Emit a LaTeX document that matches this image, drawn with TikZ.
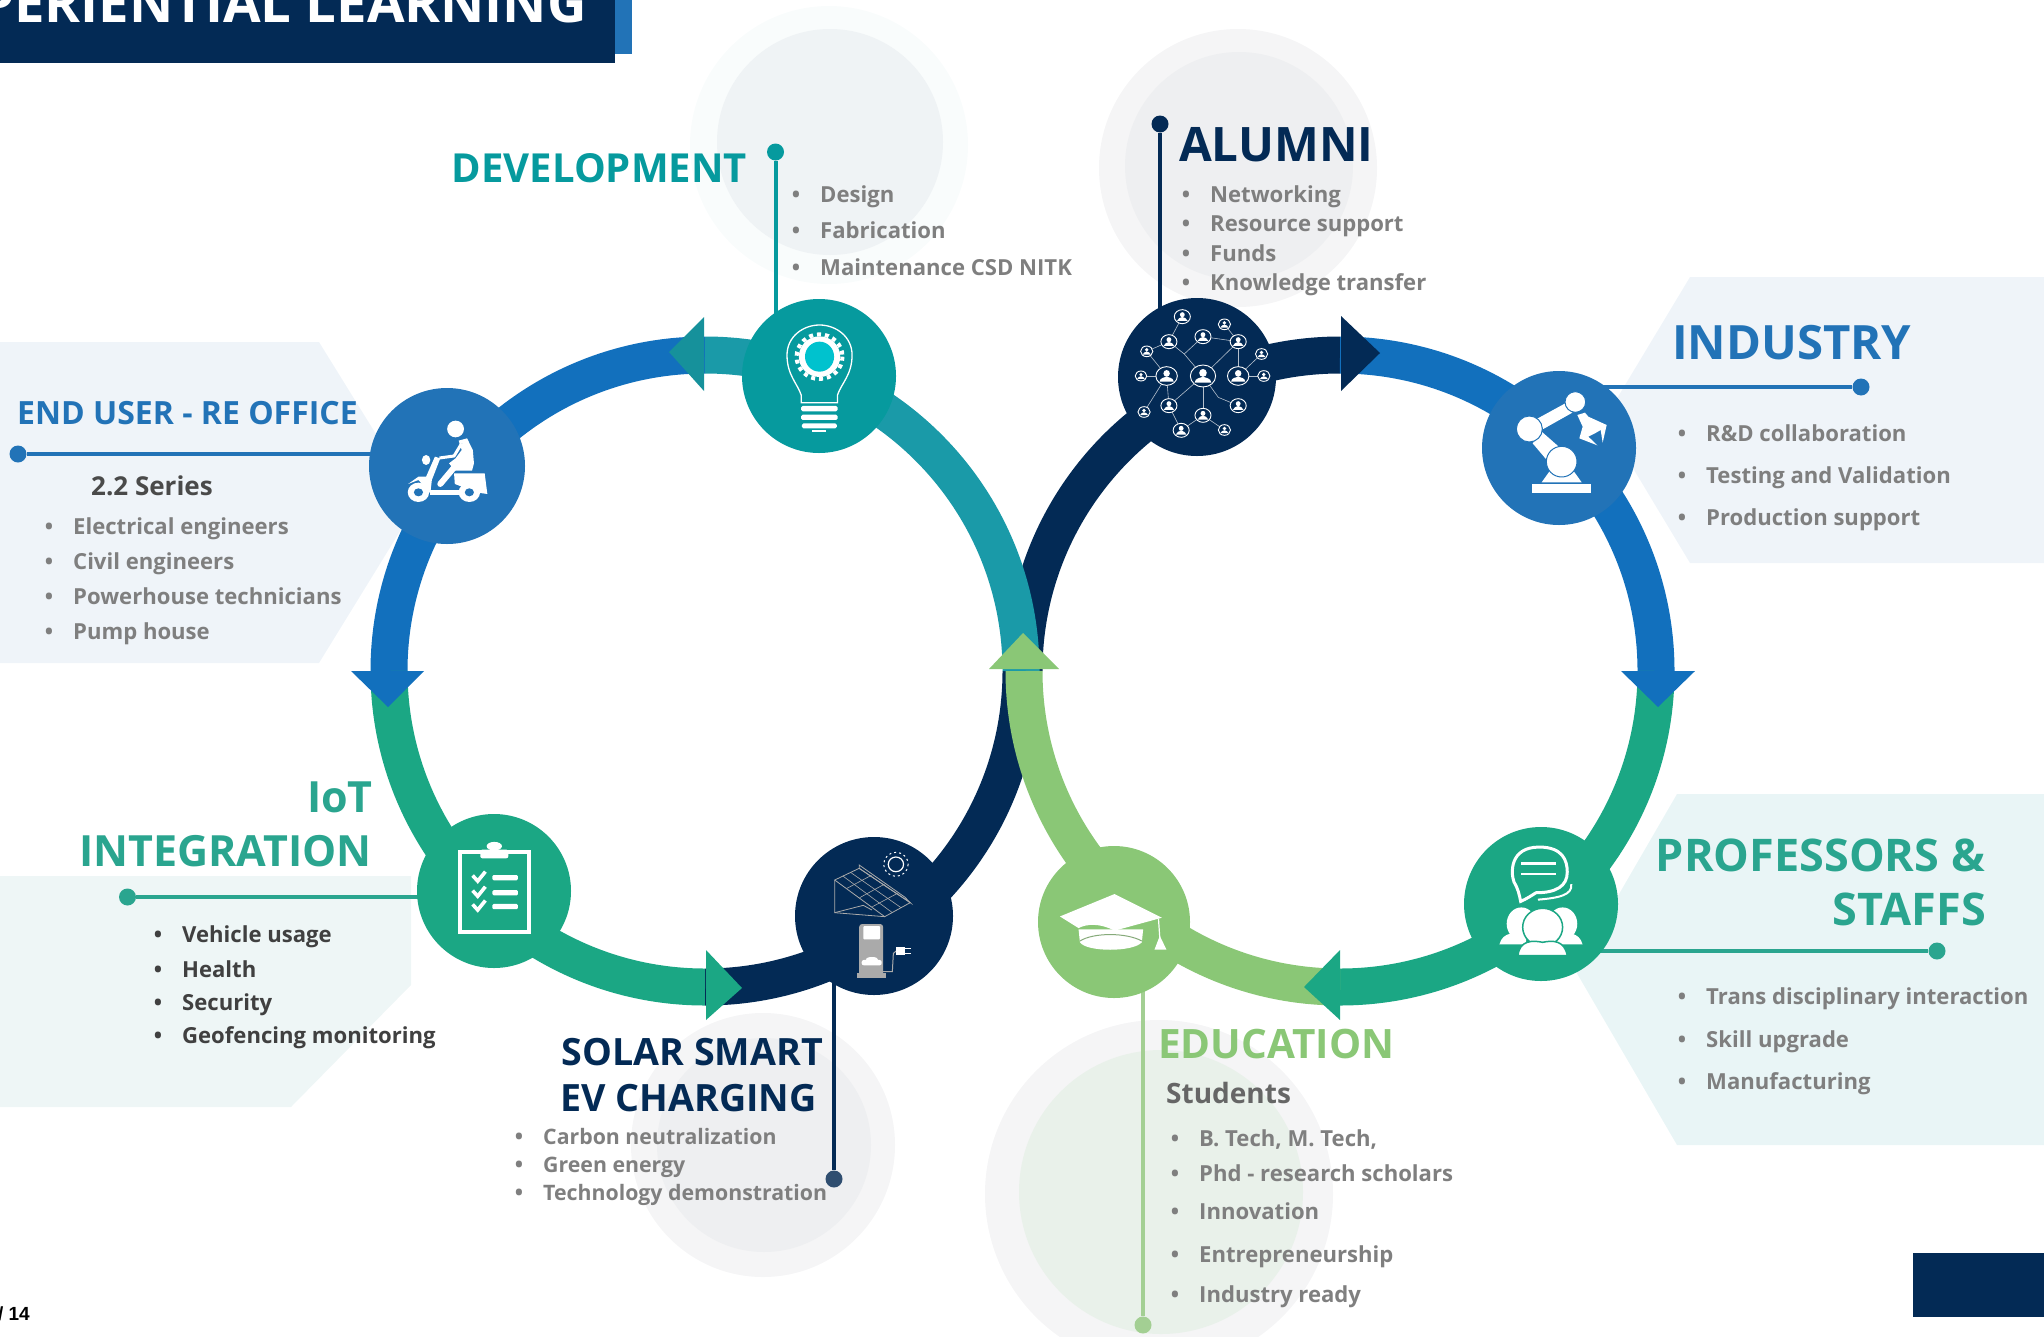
\documentclass[tikz,border=0pt]{standalone}
\usepackage{fontspec}
\setmainfont{Open Sans}
\newfontfamily\arialfont{Liberation Sans}
\usetikzlibrary{calc}
\definecolor{navy}{HTML}{032A55}
\definecolor{midblue}{HTML}{2273B7}
\definecolor{bandblue}{HTML}{1270BD}
\definecolor{tealdark}{HTML}{069A9E}
\definecolor{bandteal}{HTML}{1A9AA8}
\definecolor{arrteal}{HTML}{16919B}
\definecolor{bgreen}{HTML}{1BA784}
\definecolor{headgreen}{HTML}{2AA58F}
\definecolor{lgreen}{HTML}{8AC776}
\definecolor{lleader}{HTML}{A3CF93}
\definecolor{graytext}{HTML}{7F7F7F}
\definecolor{iotgray}{HTML}{404040}
\definecolor{panelblue}{HTML}{EFF4F9}
\definecolor{panelteal}{HTML}{E9F5F6}
\definecolor{paneliot}{HTML}{EEF6F6}
\definecolor{icongray}{HTML}{AAAAAA}
\definecolor{haloA}{HTML}{F9FCFC}
\definecolor{haloB}{HTML}{EFF3F5}
\definecolor{haloC}{HTML}{F5F5F6}
\definecolor{haloD}{HTML}{EEEFF1}
\definecolor{haloE}{HTML}{E9F1EA}
\definecolor{soldot}{HTML}{2F4E70}
\definecolor{cyanbulb}{HTML}{00C2CE}
\definecolor{sub1}{HTML}{4A4A4A}
\definecolor{sub2}{HTML}{666666}
\tikzset{
  band/.style={line width=37pt},
  hub/.style={circle,inner sep=0pt,draw=none},
  leader/.style={line width=4pt},
  dotmark/.style={circle,inner sep=0pt,minimum size=17pt},
  head/.style={font=\bfseries\fontsize{#1}{#1}\selectfont,inner sep=0pt},
  item/.style={font=\bfseries\fontsize{22.1}{22.1}\selectfont,text=graytext,inner sep=0pt,anchor=base west},
}
\newcommand{\li}[5][graytext]{\node[item,text=#1] (#2) at (#3,#4) {\llap{•\hspace{20pt}}#5};}
\newcommand{\person}[3]{%
  \begin{scope}[shift={(#1,#2)}]
    \draw[white,line width=.9pt,fill=navy] (0,0) ellipse [x radius=#3,y radius=#3];
    \fill[white] (0,{-.28*#3}) ellipse [x radius={.3*#3},y radius={.36*#3}];
    \fill[white] ({-.66*#3},{.6*#3}) .. controls ({-.62*#3},{.15*#3}) and ({-.2*#3},{.2*#3}) .. (0,{.05*#3}) .. controls ({.2*#3},{.2*#3}) and ({.62*#3},{.15*#3}) .. ({.66*#3},{.6*#3}) -- cycle;
  \end{scope}}
\begin{document}
\begin{tikzpicture}[x=1pt,y=-1pt]
\useasboundingbox (0,0) rectangle (2044,1336);
\clip (0,0) rectangle (2044,1336);
% panels
\fill[panelblue] (0,342) -- (319,342) -- (418,502) -- (319,663) -- (0,663) -- cycle;
\fill[panelblue] (1690,277) -- (2044,277) -- (2044,563) -- (1690,563) -- (1604,420) -- cycle;
\fill[panelteal] (1677,794) -- (2044,794) -- (2044,1145) -- (1677,1145) -- (1575,970) -- cycle;
\fill[paneliot] (0,876) -- (411,876) -- (411,985) -- (291,1107) -- (0,1107) -- cycle;
% halo discs
\fill[haloA] (829,145) circle (139);
\fill[haloB] (830,142) circle (113);
\fill[haloC] (1238,168) circle (139);
\fill[haloD] (1239,166) circle (114);
\fill[haloC] (763,1145) circle (132);
\fill[haloD] (764,1145) circle (107);
\fill[haloC] (1159,1194) circle (174);
\fill[haloE] (1161,1192) circle (142);
% title
\fill[midblue] (0,0) rectangle (632,54);
\fill[navy] (0,0) rectangle (615,63);
\node[head=54.5,text=white,anchor=base east] (title) at (587,22) {PERIENTIAL LEARNING};
\fill[navy] (1913,1253) rectangle (2044,1317);
\node[font=\arialfont\bfseries\fontsize{19}{19}\selectfont,inner sep=0pt,anchor=base east] (pageno) at (30,1320) {/ 14};
% ring centres
\coordinate (lc) at (705,671);
\coordinate (rc) at (1340,671);
% bands
\draw[band,navy] ($(lc)+(90:316)$) arc [start angle=90,end angle=0,radius=316];
\draw[band,navy] ($(rc)+(180:316)$) arc [start angle=180,end angle=270,radius=316];
\draw[band,bandblue] ($(lc)+(270:316)$) arc [start angle=270,end angle=180,radius=316];
\draw[band,bgreen] ($(lc)+(180:316)$) arc [start angle=180,end angle=90,radius=316];
\draw[band,bandblue] ($(rc)+(270:316)$) arc [start angle=270,end angle=360,radius=316];
\draw[band,bgreen] ($(rc)+(0:316)$) arc [start angle=0,end angle=90,radius=316];
\draw[band,bandteal] ($(lc)+(270:316)$) arc [start angle=270,end angle=360,radius=316];
\draw[band,lgreen] ($(rc)+(90:316)$) arc [start angle=90,end angle=180,radius=316];
% arrowheads
\fill[arrteal] (669,352) -- (704,317) -- (704,391) -- cycle;
\fill[bandblue] (388,707) -- (351,671) -- (424,671) -- cycle;
\fill[bgreen] (742,988) -- (706,950) -- (706,1020) -- cycle;
\fill[navy] (1380,353) -- (1341,316) -- (1341,391) -- cycle;
\fill[bandblue] (1658,707) -- (1621,671) -- (1695,671) -- cycle;
\fill[bgreen] (1304,987) -- (1340,950) -- (1340,1020) -- cycle;
\fill[lgreen] (1023,633) -- (989,669) -- (1059,669) -- cycle;
% leaders' dots first, so leaders run under hubs
\node[dotmark,fill=midblue] (d1) at (18,454) {};
\node[dotmark,fill=tealdark] (d2) at (775.5,152) {};
\node[dotmark,fill=navy] (d3) at (1160,124) {};
\node[dotmark,fill=midblue] (d4) at (1861,387) {};
\node[dotmark,fill=headgreen] (d5) at (127.5,897) {};
\node[dotmark,fill=soldot] (d6) at (834,1179) {};
\node[dotmark,fill=lleader] (d7) at (1143,1325) {};
\node[dotmark,fill=headgreen] (d8) at (1937,951) {};
\coordinate (scooterc) at (447,466);
\coordinate (bulbc) at (819,376);
\coordinate (alumnic) at (1197,377);
\coordinate (robotc) at (1559,448);
\coordinate (staffc) at (1541,904);
\coordinate (gradc) at (1114,922);
\coordinate (solarc) at (874,916);
\coordinate (clipc) at (494,891);
\draw[leader,midblue] (d1) -- (d1 -| scooterc);
\draw[leader,tealdark] (d2) -- (d2 |- bulbc);
\draw[leader,navy] (d3) -- (d3 |- alumnic);
\draw[leader,midblue] (d4) -- (d4 -| robotc);
\draw[leader,headgreen] (d5) -- (d5 -| clipc);
\draw[leader,navy] (d6) -- (d6 |- solarc);
\draw[leader,lleader] (d7) -- (d7 |- gradc);
\draw[leader,headgreen] (d8) -- (d8 -| staffc);
% hubs
\node[hub,fill=midblue,minimum size=156pt] (scooter) at (scooterc) {};
\node[hub,fill=tealdark,minimum size=154pt] (bulb) at (bulbc) {};
\node[hub,fill=navy,minimum size=158pt] (alumni) at (alumnic) {};
\node[hub,fill=midblue,minimum size=154pt] (robot) at (robotc) {};
\node[hub,fill=bgreen,minimum size=154pt] (staff) at (staffc) {};
\node[hub,fill=lgreen,minimum size=152pt] (grad) at (gradc) {};
\node[hub,fill=navy,minimum size=158pt] (solar) at (solarc) {};
\node[hub,fill=bgreen,minimum size=154pt] (clip) at (clipc) {};

% ---- icons ----
% scooter + bulb (zoom coords)
\begin{scope}[shift={(340,280)},x=.3827pt,y=-.3333pt]
  \fill[white] (302,447) ellipse [x radius=22,y radius=25];
  \fill[white] (310,482) -- (332,475) -- (347,510) -- (350,550) -- (345,572) -- (300,572) -- (285,550) -- (302,535) -- (318,510) -- cycle;
  \draw[midblue,line width=1pt] (318,490) -- (300,532) -- (262,538);
  \draw[white,line width=3pt] (318,490) -- (298,528) -- (260,534);
  \draw[white,line width=6pt,line cap=round] (300,560) -- (262,612);
  \fill[white] (298,580) -- (378,580) -- (385,642) -- (360,638) -- (300,612) -- cycle;
  \fill[white] (235,630) -- (320,630) -- (320,645) -- (235,645) -- cycle;
  \fill[white] (248,530) -- (262,535) -- (240,600) -- (236,640) -- (205,600) -- (178,612) -- (205,590) -- (225,590) -- cycle;
  \fill[white] (225,540) ellipse [x radius=11,y radius=15];
  \fill[white] (205,637) ellipse [x radius=28,y radius=29];
  \fill[midblue] (205,637) ellipse [x radius=12,y radius=12];
  \fill[white] (338,637) ellipse [x radius=28,y radius=29];
  \fill[midblue] (338,637) ellipse [x radius=12,y radius=12];
  % bulb
  \draw[white,line width=1.3pt] (1205,368) -- (1205,345) .. controls (1195,310) and (1168,285) .. (1168,225) .. controls (1168,170) and (1210,135) .. (1253,135) .. controls (1296,135) and (1338,170) .. (1338,225) .. controls (1338,285) and (1310,310) .. (1300,345) -- (1300,368) -- cycle;
  \draw[white,line width=4pt,dash pattern=on 4pt off 4pt] (1253,230) ellipse [x radius=60,y radius=67];
  \fill[white] (1253,230) ellipse [x radius=54,y radius=61];
  \fill[cyanbulb] (1253,230) ellipse [x radius=38,y radius=45];
  \fill[white,rounded corners=1.5pt] (1205,378) rectangle (1300,394);
  \fill[white,rounded corners=1.5pt] (1205,404) rectangle (1300,420);
  \fill[white,rounded corners=1.5pt] (1207,430) rectangle (1298,445);
  \fill[white] (1232,450) rectangle (1270,456);
\end{scope}
% alumni network
\begin{scope}[shift={(720,280)},x=.3827pt,y=-.3333pt]
  \foreach \ax/\ay/\bx/\by in {1262/288/1213/222, 1213/222/1173/185, 1213/222/1262/170, 1262/288/1354/185, 1262/170/1354/185, 1354/185/1318/133, 1354/185/1354/288, 1354/288/1415/222, 1354/288/1421/288, 1173/185/1208/110, 1173/185/1115/214, 1115/214/1167/288, 1167/288/1100/288, 1167/288/1173/377, 1167/288/1108/396, 1173/377/1262/288, 1173/377/1205/451, 1262/288/1262/406, 1262/406/1205/451, 1262/406/1318/450, 1262/288/1302/352, 1302/352/1354/377}
    {\draw[white!70!navy,line width=.6pt] (\ax,\ay) -- (\bx,\by);}
  \foreach \px/\py/\pr in {1262/288/33, 1167/288/28, 1354/288/28, 1208/110/21, 1173/185/21, 1262/170/21, 1354/185/21, 1318/133/16, 1115/214/16, 1415/222/16, 1421/288/16, 1100/288/15, 1108/396/16, 1173/377/21, 1262/406/21, 1354/377/21, 1205/451/21, 1318/450/16}
    {\person{\px}{\py}{\pr}}
\end{scope}
% robot
\begin{scope}[shift={(1440,340)},x=.3333pt,y=-.3333pt]
  \fill[white] (277,433) rectangle (453,458);
  \fill[white] (305,427) -- (335,385) -- (395,385) -- (425,427) -- cycle;
  \fill[white] (290,237) -- (385,185) -- (397,218) -- (310,267) -- cycle;
  \fill[white] (278,310) -- (305,275) -- (362,325) -- (322,362) -- cycle;
  \draw[midblue,line width=1pt,fill=white] (365,365) circle (46);
  \draw[midblue,line width=1pt,fill=white] (268,267) circle (39);
  \draw[midblue,line width=1pt,fill=white] (406,186) circle (31);
  \fill[white] (412,225) -- (435,218) -- (445,230) -- (500,255) -- (488,308) -- (482,270) -- (465,280) -- (445,290) -- (472,316) -- (418,295) -- (428,260) -- cycle;
\end{scope}
% staff
\begin{scope}[shift={(1000,660)},x=.6658pt,y=-.431pt]
  \draw[white,line width=2pt] (858,520) .. controls (860,545) and (840,552) .. (808,556);
  \draw[white,line width=3pt] (810,434) .. controls (845,434) and (852,465) .. (852,492) .. controls (852,525) and (835,540) .. (805,540) .. controls (800,545) and (790,555) .. (782,560) .. controls (780,545) and (778,530) .. (772,515) .. controls (767,495) and (765,434) .. (810,434) -- cycle;
  \draw[white,line width=2.5pt] (783,472) -- (835,472);
  \draw[white,line width=2.5pt] (783,497) -- (835,497);
  \fill[white] (783,612) ellipse [x radius=22,y radius=38];
  \fill[white] (750,660) .. controls (755,630) and (775,630) .. (790,640) -- (790,660) -- cycle;
  \fill[white] (845,612) ellipse [x radius=22,y radius=38];
  \fill[white] (875,660) .. controls (870,630) and (850,630) .. (835,640) -- (835,660) -- cycle;
  \draw[bgreen,line width=1.5pt,fill=white] (815,620) ellipse [x radius=30,y radius=44];
  \draw[bgreen,line width=1.5pt,fill=white] (778,686) .. controls (780,650) and (800,650) .. (815,655) .. controls (830,650) and (848,650) .. (852,686) -- cycle;
\end{scope}
% graduation cap
\begin{scope}[shift={(1000,660)},x=.6658pt,y=-.431pt]
  \fill[white] (118,625) -- (215,625) -- (213,655) .. controls (200,678) and (130,678) .. (120,655) -- cycle;
  \draw[lgreen!60!gray,line width=1pt] (120,652) .. controls (140,632) and (190,632) .. (213,652);
  \fill[white] (90,595) -- (172,543) -- (243,598) -- (172,628) .. controls (150,610) and (130,612) .. (118,622) -- cycle;
  \draw[white,line width=1.2pt] (238,600) -- (240,645);
  \fill[white] (240,640) -- (250,672) -- (232,672) -- cycle;
\end{scope}
% clipboard
\begin{scope}[shift={(0,660)},x=.6378pt,y=-.431pt]
  \draw[white,line width=4pt] (722,445) rectangle (830,632);
  \fill[white,rounded corners=2pt] (753,440) rectangle (797,460);
  \fill[white] (775,432) ellipse [x radius=12,y radius=10];
  \foreach \yy in {505,540,572} {
    \draw[white,line width=3.6pt] (741,\yy-5) -- (749,\yy+8) -- (761,\yy-14);
    \fill[white,rounded corners=1.2pt] (772,\yy-6) rectangle (812,\yy+6);
  }
\end{scope}
% solar
\begin{scope}[shift={(400,800)},x=.5102pt,y=-.3333pt]
  \draw[icongray,line width=.8pt] (852,240) -- (900,205) -- (1000,308) -- (950,350) -- cycle;
  \draw[icongray,line width=.8pt] (900,195) -- (990,292) -- (1000,308) -- (900,205) -- cycle;
  \draw[icongray,line width=.8pt] (852,240) -- (852,338) -- (950,350);
  \draw[icongray,line width=.8pt] (852,338) -- (908,316) -- (925,330);
  \draw[icongray,line width=.6pt] (868,228) -- (965,338);
  \draw[icongray,line width=.6pt] (883,217) -- (982,323);
  \draw[icongray,line width=.6pt] (876,265) -- (924,226);
  \draw[icongray,line width=.6pt] (901,293) -- (950,252);
  \draw[icongray,line width=.6pt] (926,320) -- (975,280);
  \draw[white,line width=1.2pt] (972,193) ellipse [x radius=15,y radius=22];
  \draw[white,line width=1pt,dash pattern=on 2pt off 3pt] (972,193) ellipse [x radius=24,y radius=36];
  \fill[icongray,rounded corners=3pt] (900,372) rectangle (947,528);
  \fill[icongray] (896,520) rectangle (952,533);
  \fill[white,rounded corners=1pt] (908,378) rectangle (941,418);
  \fill[white,rounded corners=2pt] (905,480) rectangle (944,496);
  \fill[white] (925,478) ellipse [x radius=12,y radius=7];
  \draw[icongray,line width=1pt] (947,515) -- (965,515) -- (967,460) -- (975,450);
  \fill[white] (972,440) rectangle (990,466);
  \draw[white,line width=1.5pt] (990,446) -- (1002,446) (990,460) -- (1002,460);
\end{scope}

% ---- text ----
\node[head=40,text=tealdark,anchor=base east] (tdev) at (747,182) {DEVELOPMENT};
\li{dv1}{820}{202}{Design}
\li{dv2}{820}{238.5}{Fabrication}
\li{dv3}{820}{275}{Maintenance CSD NITK}
\node[head=32,text=midblue,anchor=base west] (teu) at (17,424) {END USER - RE OFFICE};
\node[head=26,text=sub1,anchor=base west] (t22) at (91,495) {2.2 Series};
\li{eu1}{73}{534}{Electrical engineers}
\li{eu2}{73}{569}{Civil engineers}
\li{eu3}{73}{604}{Powerhouse technicians}
\li{eu4}{73}{639}{Pump house}
\node[head=47.5,text=navy,anchor=base west] (tal) at (1179,161) {ALUMNI};
\li{al1}{1210}{202}{Networking}
\li{al2}{1210}{231}{Resource support}
\li{al3}{1210}{261.5}{Funds}
\li{al4}{1210}{290.5}{Knowledge transfer}
\node[head=47.3,text=midblue,anchor=base west] (tin) at (1672,359) {INDUSTRY};
\li{in1}{1706}{441.5}{R\&D collaboration}
\li{in2}{1706}{483.5}{Testing and Validation}
\li{in3}{1706}{525.5}{Production support}
\node[head=43,text=headgreen,anchor=base east] (tiot1) at (373,812) {IoT};
\node[head=43,text=headgreen,anchor=base east] (tiot2) at (372,866) {INTEGRATION};
\li[iotgray]{io1}{182}{942}{Vehicle usage}
\li[iotgray]{io2}{182}{977}{Health}
\li[iotgray]{io3}{182}{1010}{Security}
\li[iotgray]{io4}{182}{1043}{Geofencing monitoring}
\node[head=37.6,text=navy,anchor=base east] (tso1) at (823,1065) {SOLAR SMART};
\node[head=37.6,text=navy,anchor=base east] (tso2) at (817,1111) {EV CHARGING};
\li{so1}{543}{1144}{\fontsize{21.3}{21.3}\selectfont Carbon neutralization}
\li{so2}{543}{1172}{\fontsize{21.3}{21.3}\selectfont Green energy}
\li{so3}{543}{1200}{\fontsize{21.3}{21.3}\selectfont Technology demonstration}
\node[head=40.5,text=lgreen,anchor=base west] (ted) at (1158,1058) {EDUCATION};
\node[head=28,text=sub2,anchor=base west] (tst) at (1166,1103) {Students};
\li{ed1}{1199}{1146}{B. Tech, M. Tech,}
\li{ed2}{1199}{1181.5}{Phd - research scholars}
\li{ed3}{1199}{1219.5}{Innovation}
\li{ed4}{1199}{1262.5}{Entrepreneurship}
\li{ed5}{1199}{1302}{Industry ready}
\node[head=45,text=headgreen,anchor=base east] (tpr1) at (1985,871) {PROFESSORS \&};
\node[head=45,text=headgreen,anchor=base east] (tpr2) at (1986,925) {STAFFS};
\li{pr1}{1706}{1004}{Trans disciplinary interaction}
\li{pr2}{1706}{1047}{Skill upgrade}
\li{pr3}{1706}{1089}{Manufacturing}
\end{tikzpicture}
\end{document}
